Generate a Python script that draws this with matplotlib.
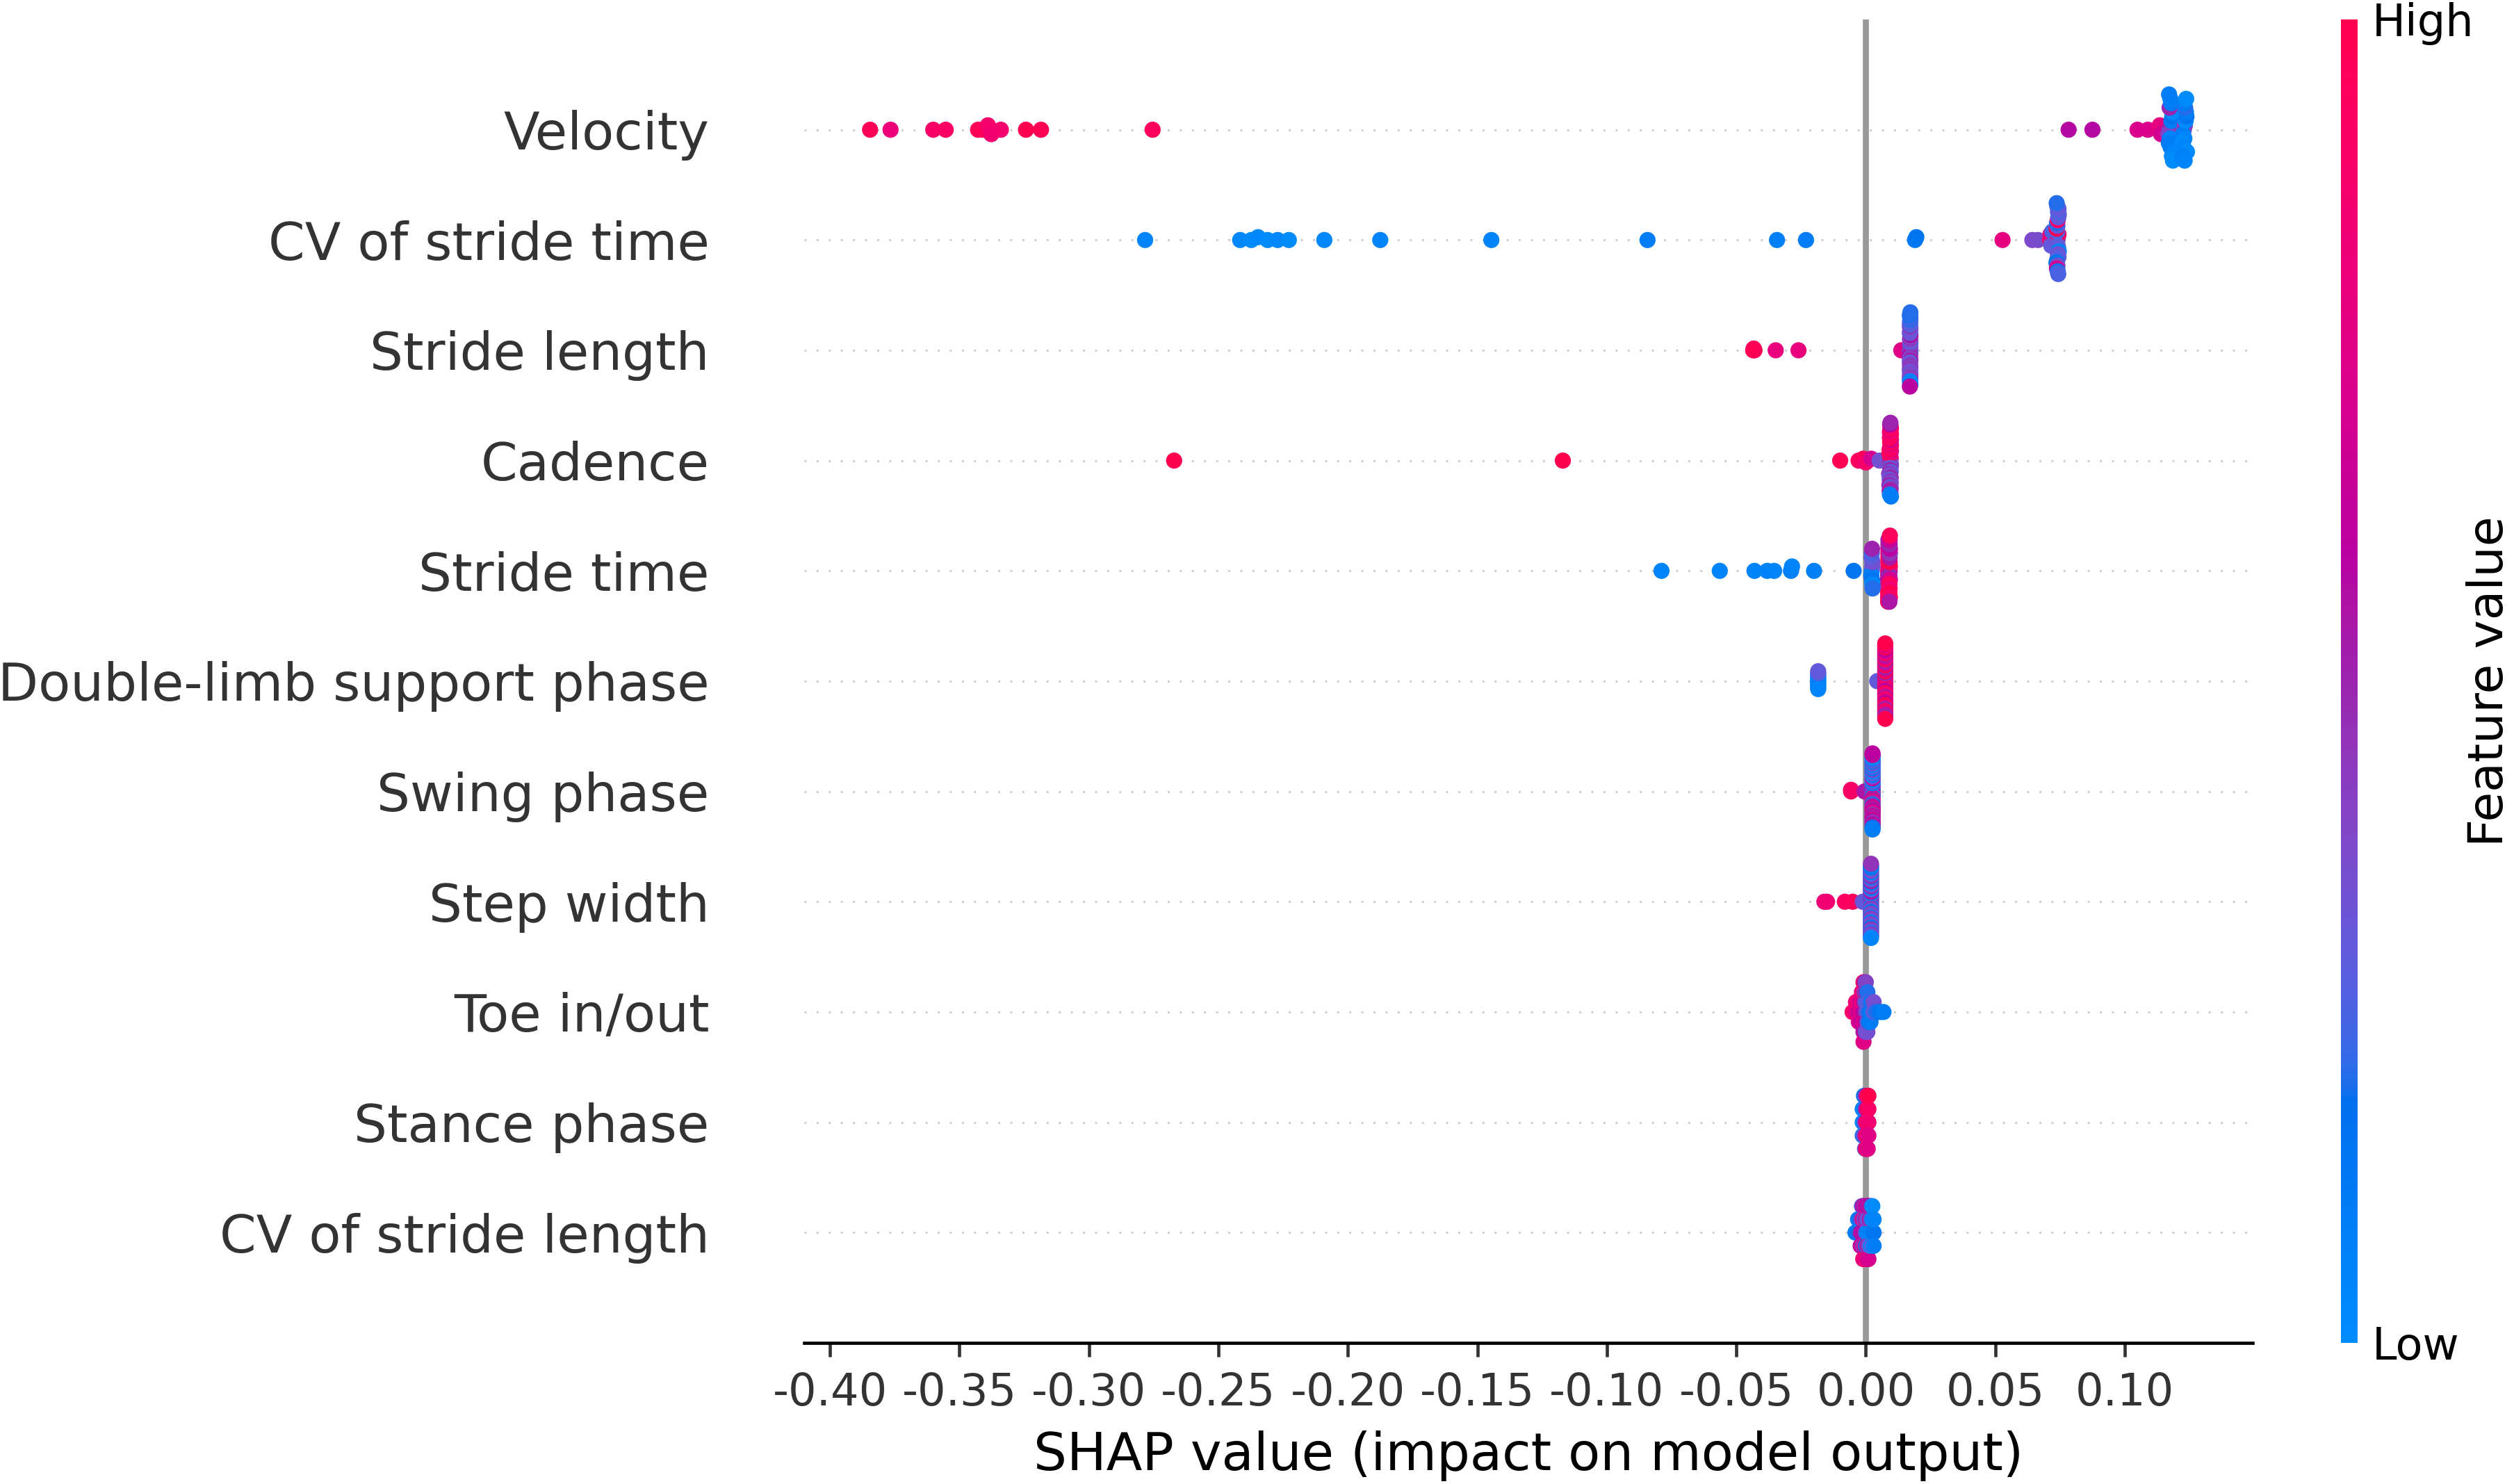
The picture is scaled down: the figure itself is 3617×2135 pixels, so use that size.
import numpy as np
import matplotlib

matplotlib.use("Agg")
import matplotlib.pyplot as plt
from matplotlib.cm import ScalarMappable
from matplotlib.colors import LinearSegmentedColormap
from matplotlib.ticker import FormatStrFormatter

# feature names, top row first
FEATURES = ["Velocity", "CV of stride time", "Stride length", "Cadence", "Stride time",
            "Double-limb support phase", "Swing phase", "Step width", "Toe in/out",
            "Stance phase", "CV of stride length"]

XTICKS = [-0.40, -0.35, -0.30, -0.25, -0.20, -0.15, -0.10, -0.05, 0.00, 0.05, 0.10]

# per sample: SHAP value and normalised feature value (0 = low, 1 = high)
velocity_shap = [-0.3845, -0.3766, -0.3601, -0.3553, -0.3428, -0.3409, -0.3390, -0.3377, -0.3340,
                 -0.3243, -0.3185, -0.2754,
                 0.0783, 0.0875, 0.1049, 0.1089, 0.1130, 0.1135, 0.1140,
                 0.1172, 0.1178, 0.1168, 0.1180, 0.1175, 0.1183, 0.1170, 0.1185, 0.1177, 0.1173,
                 0.1188, 0.1179, 0.1182, 0.1176, 0.1186, 0.1171,
                 0.1228, 0.1232, 0.1225, 0.1235, 0.1230, 0.1238, 0.1222, 0.1236, 0.1227, 0.1233,
                 0.1240, 0.1229, 0.1224, 0.1237, 0.1231]
velocity_fv = [0.97, 0.82, 0.90, 0.92, 0.98, 0.96, 0.88, 0.85, 0.86, 1.00, 0.98, 0.95,
               0.58, 0.58, 0.72, 0.72, 0.75, 0.78, 0.70,
               0.45, 0.50, 0.40, 0.10, 0.05, 0.15, 0.10, 0.00, 0.10, 0.50, 0.05, 0.12, 0.02, 0.08,
               0.00, 0.10,
               0.30, 0.45, 0.10, 0.00, 0.05, 0.15, 0.00, 0.10, 0.05, 0.20, 0.00, 0.10, 0.08, 0.00,
               0.05]

cv_time_shap = [-0.2783, -0.2416, -0.2373, -0.2347, -0.2310, -0.2271, -0.2228, -0.2091, -0.1875,
                -0.1446, -0.0843, -0.0343, -0.0231,
                0.0190, 0.0195, 0.0528, 0.0643, 0.0665,
                0.0712, 0.0715, 0.0718, 0.0713, 0.0716, 0.0720,
                0.0740, 0.0742, 0.0738, 0.0744, 0.0741, 0.0739, 0.0743, 0.0737, 0.0745, 0.0740,
                0.0742, 0.0738, 0.0744, 0.0741, 0.0739, 0.0743, 0.0736, 0.0745, 0.0740, 0.0742,
                0.0738, 0.0744, 0.0741, 0.0739, 0.0743, 0.0737]
cv_time_fv = [0.05, 0.02, 0.00, 0.03, 0.00, 0.02, 0.00, 0.03, 0.05, 0.05, 0.10, 0.08, 0.10,
              0.12, 0.15, 0.78, 0.38, 0.36,
              0.95, 0.90, 0.30, 0.80, 0.30, 0.25,
              0.80, 0.30, 0.35, 0.95, 0.30, 0.25, 0.30, 1.00, 0.05, 0.30,
              0.35, 0.20, 0.30, 0.90, 0.25, 0.30, 0.15, 0.30, 0.35, 0.25,
              0.70, 0.30, 0.20, 0.30, 0.25, 0.20]

stride_len_shap = [-0.0435, -0.0433, -0.0430, -0.0348, -0.0260, 0.0137,
                   0.0171, 0.0172, 0.0170, 0.0171, 0.0172, 0.0171, 0.0170, 0.0172, 0.0171, 0.0172,
                   0.0170, 0.0171, 0.0172, 0.0171, 0.0170, 0.0172, 0.0171, 0.0172, 0.0171, 0.0170,
                   0.0172, 0.0171, 0.0170, 0.0172, 0.0171, 0.0172, 0.0171, 0.0170, 0.0172, 0.0171,
                   0.0170, 0.0171, 0.0172, 0.0171, 0.0170, 0.0172, 0.0171, 0.0172, 0.0171, 0.0170,
                   0.0172, 0.0171, 0.0170, 0.0172]
stride_len_fv = [1.00, 0.95, 0.98, 0.80, 0.80, 0.75,
                 0.45, 0.40, 0.35, 0.45, 0.30, 0.40, 0.60, 0.35, 0.45, 0.30,
                 0.40, 0.35, 0.55, 0.45, 0.30, 0.40, 0.35, 0.60, 0.45, 0.30,
                 0.40, 0.35, 0.45, 0.30, 0.40, 0.35, 0.30, 0.45, 0.40, 0.25,
                 0.35, 0.30, 0.45, 0.25, 0.40, 0.20, 0.05, 0.25, 0.05, 0.20,
                 0.10, 0.20, 0.60, 0.20]

cadence_shap = [-0.2671, -0.1170, -0.0099, -0.0028, -0.0020, -0.0010, 0.0000, 0.0008, 0.0021, 0.0053,
                0.0094, 0.0096, 0.0092, 0.0095, 0.0097, 0.0093, 0.0096, 0.0091, 0.0094, 0.0097,
                0.0095, 0.0092, 0.0096, 0.0094, 0.0090, 0.0097, 0.0093, 0.0095, 0.0096, 0.0094,
                0.0092, 0.0097, 0.0095, 0.0093, 0.0096, 0.0094, 0.0091, 0.0097, 0.0095, 0.0093,
                0.0096, 0.0094, 0.0092, 0.0097, 0.0095, 0.0096, 0.0093, 0.0094, 0.0097, 0.0095]
cadence_fv = [1.00, 1.00, 0.98, 0.95, 0.90, 0.95, 0.85, 0.90, 0.70, 0.35,
              0.75, 0.50, 0.45, 0.85, 0.30, 0.90, 0.45, 0.95, 0.30, 0.75,
              0.50, 1.00, 0.30, 0.85, 0.45, 0.90, 0.35, 0.80, 0.50, 0.95,
              0.30, 0.70, 0.45, 1.00, 0.35, 0.85, 0.50, 0.95, 0.30, 0.90,
              0.45, 0.80, 0.55, 0.95, 0.50, 0.90, 0.10, 0.60, 0.10, 0.50]

stride_time_shap = [-0.0789, -0.0564, -0.0430, -0.0381, -0.0354, -0.0289, -0.0285, -0.0200, -0.0047,
                    0.0023, 0.0025, 0.0021, 0.0026, 0.0024, 0.0022, 0.0025, 0.0023, 0.0026, 0.0024,
                    0.0086, 0.0087, 0.0086, 0.0087, 0.0086, 0.0087, 0.0086, 0.0087, 0.0086, 0.0087,
                    0.0086, 0.0087, 0.0086, 0.0087, 0.0086,
                    0.0092, 0.0093, 0.0091, 0.0092, 0.0093, 0.0092, 0.0091, 0.0093, 0.0092, 0.0093,
                    0.0091, 0.0092, 0.0093, 0.0092, 0.0091, 0.0093]
stride_time_fv = [0.05, 0.05, 0.05, 0.06, 0.05, 0.08, 0.05, 0.08, 0.15,
                  0.05, 0.30, 0.10, 0.35, 0.15, 0.30, 0.05, 0.25, 0.20, 0.50,
                  0.95, 0.70, 0.55, 0.90, 0.60, 1.00, 0.50, 0.85, 0.45, 0.75,
                  0.95, 0.55, 0.80, 0.50, 1.00,
                  0.60, 0.90, 0.50, 1.00, 0.70, 0.55, 0.95, 0.45, 0.85, 0.60,
                  1.00, 0.50, 0.90, 0.65, 0.55, 0.95]

double_limb_shap = [-0.0184, -0.0184, -0.0184, -0.0184, -0.0184, -0.0184, -0.0184, -0.0184, -0.0184,
                    -0.0184, 0.0044,
                    0.0075, 0.0075, 0.0075, 0.0075, 0.0075, 0.0075, 0.0075, 0.0075, 0.0075, 0.0075,
                    0.0075, 0.0075, 0.0075, 0.0075, 0.0075, 0.0075, 0.0075, 0.0075, 0.0075, 0.0075,
                    0.0075, 0.0075, 0.0075, 0.0075, 0.0075, 0.0075, 0.0075, 0.0075, 0.0075, 0.0075,
                    0.0075, 0.0075, 0.0075, 0.0075, 0.0075, 0.0075, 0.0075, 0.0075, 0.0075]
double_limb_fv = [0.05, 0.10, 0.05, 0.08, 0.10, 0.05, 0.10, 0.25, 0.05, 0.30, 0.30,
                  0.75, 0.50, 0.80, 1.00, 0.55, 0.70, 0.95, 0.50, 0.80, 1.00,
                  0.60, 0.75, 0.95, 0.50, 0.85, 1.00, 0.55, 0.70, 0.90, 0.50,
                  0.80, 0.95, 0.60, 0.75, 1.00, 0.55, 0.85, 0.90, 0.50, 0.70,
                  0.95, 0.60, 0.80, 1.00, 0.55, 0.75, 0.50, 1.00, 1.00]

swing_shap = [-0.0057, -0.0057, -0.0005,
              0.0026, 0.0026, 0.0026, 0.0026, 0.0026, 0.0026, 0.0026, 0.0026, 0.0026, 0.0026,
              0.0026, 0.0026, 0.0026, 0.0026, 0.0026, 0.0026, 0.0026, 0.0026, 0.0026, 0.0026,
              0.0026, 0.0026, 0.0026, 0.0026, 0.0026, 0.0026, 0.0026, 0.0026, 0.0026, 0.0026,
              0.0026, 0.0026, 0.0026, 0.0026, 0.0026, 0.0026, 0.0026, 0.0026, 0.0026, 0.0026,
              0.0026, 0.0026, 0.0026, 0.0026, 0.0026, 0.0026, 0.0026]
swing_fv = [0.95, 0.90, 0.55,
            0.50, 0.30, 0.75, 0.10, 0.45, 0.60, 0.00, 0.35, 0.70, 0.15,
            0.50, 0.30, 0.80, 0.05, 0.45, 0.65, 0.20, 0.35, 0.55, 0.10,
            0.70, 0.30, 0.50, 0.00, 0.60, 0.40, 0.75, 0.15, 0.45, 0.30,
            0.65, 0.05, 0.50, 0.35, 0.70, 0.20, 0.55, 0.30, 0.45, 0.10,
            0.60, 0.00, 0.50, 0.65, 0.15, 0.60, 0.10]

step_width_shap = [-0.0160, -0.0150, -0.0081, -0.0051, -0.0012, -0.0005,
                   0.0020, 0.0020, 0.0020, 0.0020, 0.0020, 0.0020, 0.0020, 0.0020, 0.0020, 0.0020,
                   0.0020, 0.0020, 0.0020, 0.0020, 0.0020, 0.0020, 0.0020, 0.0020, 0.0020, 0.0020,
                   0.0020, 0.0020, 0.0020, 0.0020, 0.0020, 0.0020, 0.0020, 0.0020, 0.0020, 0.0020,
                   0.0020, 0.0020, 0.0020, 0.0020, 0.0020, 0.0020, 0.0020, 0.0020, 0.0020, 0.0020,
                   0.0020, 0.0020, 0.0020, 0.0020]
step_width_fv = [0.82, 0.85, 0.92, 0.95, 0.35, 0.30,
                 0.60, 0.30, 0.45, 0.15, 0.35, 0.55, 0.10, 0.30, 0.45, 0.20,
                 0.35, 0.60, 0.15, 0.30, 0.40, 0.10, 0.35, 0.50, 0.20, 0.30,
                 0.45, 0.15, 0.35, 0.55, 0.10, 0.30, 0.40, 0.20, 0.35, 0.50,
                 0.15, 0.30, 0.45, 0.10, 0.35, 0.40, 0.20, 0.30, 0.45, 0.15,
                 0.30, 0.10, 0.05, 0.45]

toe_shap = [-0.0051, -0.0038, -0.0038, -0.0027, -0.0027, -0.0027, -0.0020, -0.0020, -0.0020,
            -0.0015, -0.0015, -0.0015, -0.0015,
            -0.0009, -0.0009, -0.0009, -0.0009, -0.0009, -0.0009, -0.0009,
            -0.0004, -0.0004, -0.0004, -0.0004, -0.0004, -0.0004,
            0.0000, 0.0000, 0.0000, 0.0000, 0.0000, 0.0000,
            0.0006, 0.0006, 0.0006, 0.0006, 0.0006,
            0.0012, 0.0012, 0.0012, 0.0018, 0.0018, 0.0018,
            0.0024, 0.0024, 0.0030, 0.0030, 0.0040, 0.0055, 0.0068]
toe_fv = [0.90, 0.80, 0.85, 0.60, 0.80, 0.70, 0.80, 0.65, 0.75,
          0.70, 0.85, 0.60, 0.80,
          0.60, 0.70, 0.80, 0.85, 0.55, 0.95, 0.75,
          0.60, 0.50, 0.70, 0.40, 0.65, 0.55,
          0.45, 0.30, 0.60, 0.50, 0.35, 0.40,
          0.30, 0.25, 0.40, 0.20, 0.35,
          0.20, 0.30, 0.15, 0.15, 0.20, 0.10,
          0.10, 0.12, 0.30, 0.35, 0.20, 0.15, 0.10]

stance_shap = [-0.0012, -0.0012, -0.0012, -0.0007, -0.0007, -0.0007, -0.0007,
               -0.0003, -0.0003, -0.0003, -0.0003, -0.0003,
               0.0000, 0.0000, 0.0000, 0.0000, 0.0000,
               0.0002, 0.0002, 0.0002, 0.0002, 0.0002,
               0.0004, 0.0004, 0.0004, 0.0004, 0.0004,
               0.0005, 0.0005, 0.0005, 0.0005, 0.0005,
               0.0006, 0.0006, 0.0006, 0.0006, 0.0006,
               0.0007, 0.0007, 0.0007, 0.0007, 0.0007,
               0.0008, 0.0008, 0.0008, 0.0008, 0.0010, 0.0010, 0.0010, 0.0010]
stance_fv = [0.05, 0.10, 0.20, 0.10, 0.05, 0.25, 0.15,
             0.30, 0.10, 0.40, 0.20, 0.35,
             0.50, 0.35, 0.60, 0.40, 0.55,
             0.70, 0.50, 0.80, 0.45, 0.90,
             0.75, 0.60, 0.95, 0.50, 1.00,
             0.85, 0.55, 0.90, 0.65, 0.95,
             0.90, 0.70, 1.00, 0.60, 0.85,
             0.80, 0.95, 0.70, 1.00, 0.75,
             0.90, 0.80, 0.95, 0.85, 0.85, 0.90, 0.75, 1.00]

cv_len_shap = [-0.0040, -0.0030, -0.0030, -0.0020, -0.0020, -0.0020,
               -0.0015, -0.0015, -0.0015, -0.0015,
               -0.0010, -0.0010, -0.0010, -0.0010, -0.0010,
               -0.0005, -0.0005, -0.0005, -0.0005, -0.0005,
               0.0000, 0.0000, 0.0000, 0.0000, 0.0000,
               0.0005, 0.0005, 0.0005, 0.0005, 0.0005,
               0.0010, 0.0010, 0.0010, 0.0010, 0.0010,
               0.0015, 0.0015, 0.0015, 0.0015,
               0.0020, 0.0020, 0.0020, 0.0020,
               0.0025, 0.0025, 0.0025, 0.0025,
               0.0030, 0.0030, 0.0030]
cv_len_fv = [0.10, 0.15, 0.10, 0.50, 0.20, 0.60,
             0.60, 0.45, 0.70, 0.30,
             0.55, 0.80, 0.40, 0.65, 0.85,
             0.60, 0.35, 0.75, 0.45, 0.80,
             0.30, 0.55, 0.20, 0.70, 0.85,
             0.10, 0.40, 0.50, 0.60, 0.75,
             0.05, 0.30, 0.45, 0.50, 0.70,
             0.10, 0.55, 0.35, 0.65,
             0.05, 0.40, 0.00, 0.50,
             0.10, 0.05, 0.30, 0.00,
             0.15, 0.05, 0.10]

ROWS = [(velocity_shap, velocity_fv), (cv_time_shap, cv_time_fv), (stride_len_shap, stride_len_fv),
        (cadence_shap, cadence_fv), (stride_time_shap, stride_time_fv),
        (double_limb_shap, double_limb_fv), (swing_shap, swing_fv), (step_width_shap, step_width_fv),
        (toe_shap, toe_fv), (stance_shap, stance_fv), (cv_len_shap, cv_len_fv)]


def lch2rgb(l, c, h):
    # CIE LCh -> Lab -> XYZ (D65) -> sRGB, same route as shap's colour helpers
    a, b = c * np.cos(h), c * np.sin(h)
    fy = (l + 16) / 116
    f = np.array([fy + a / 500, fy, max(fy - b / 200, 0)])
    xyz = np.where(f > 0.2068966, f ** 3, (f - 16 / 116) / 7.787) * np.array([0.95047, 1.0, 1.08883])
    xyz_from_rgb = np.array([[0.412453, 0.357580, 0.180423],
                             [0.212671, 0.715160, 0.072169],
                             [0.019334, 0.119193, 0.950227]])
    rgb = np.linalg.inv(xyz_from_rgb) @ xyz
    rgb = np.where(rgb > 0.0031308, 1.055 * np.abs(rgb) ** (1 / 2.4) - 0.055, rgb * 12.92)
    return np.clip(rgb, 0, 1)


def red_blue():
    blue, red, l_mid, n = [54.0, 70.0, 4.6588], [54.0, 90.0, 0.35470565 + 2 * np.pi], 40.0, 100
    ls = list(np.linspace(blue[0], l_mid, n // 2)) + list(np.linspace(l_mid, red[0], n // 2))
    cs = np.linspace(blue[1], red[1], n)
    hs = np.linspace(blue[2], red[2], n)
    return LinearSegmentedColormap.from_list("red_blue", [lch2rgb(*v) for v in zip(ls, cs, hs)])


def swarm(shaps, nbins=100, row_height=0.4):
    # shap's beeswarm: bin the values, alternate up/down inside each bin
    shaps = np.asarray(shaps)
    quant = np.round(nbins * (shaps - shaps.min()) / (shaps.max() - shaps.min() + 1e-8))
    ys = np.zeros(len(shaps))
    layer, last_bin = 0, -1
    for ind in np.argsort(quant, kind="stable"):
        if quant[ind] != last_bin:
            layer = 0
        ys[ind] = np.ceil(layer / 2) * ((layer % 2) * 2 - 1)
        layer += 1
        last_bin = quant[ind]
    return ys * 0.9 * (row_height / np.max(ys + 1))


plt.rcParams["axes.unicode_minus"] = False
axis_color = "#333333"
cmap = red_blue()
DPI = 418

fig = plt.figure(figsize=(3617 / DPI, 2135 / DPI), dpi=DPI)
ax = fig.add_axes([0.3199, 0.0951, 0.5762, 0.8918])
ax.axvline(x=0, color="#999999", zorder=-1)

n = len(FEATURES)
for i, (shaps, fv) in enumerate(ROWS):
    pos = n - 1 - i
    ax.axhline(y=pos, color="#cccccc", lw=0.5, dashes=(1, 5), zorder=-1)
    ax.scatter(shaps, pos + swarm(shaps), c=fv, cmap=cmap, vmin=0, vmax=1, s=16,
               linewidth=0, zorder=3)

ax.xaxis.set_ticks_position("bottom")
ax.yaxis.set_ticks_position("none")
for side in ["right", "top", "left"]:
    ax.spines[side].set_visible(False)
ax.tick_params(color=axis_color, labelcolor=axis_color)
ax.set_yticks(range(n))
ax.set_yticklabels(FEATURES[::-1], fontsize=13)
ax.tick_params("y", length=20, width=0.5, which="major")
ax.tick_params("x", labelsize=11)
ax.set_xticks(XTICKS)
ax.xaxis.set_major_formatter(FormatStrFormatter("%.2f"))
ax.set_ylim(-1, n)
ax.set_xlabel("SHAP value (impact on model output)", fontsize=13)

cax = fig.add_axes([0.9312, 0.0951, 0.00664, 0.8918])
cb = fig.colorbar(ScalarMappable(cmap=cmap), cax=cax, ticks=[0, 1])
cb.set_ticklabels(["Low", "High"])
cb.set_label("Feature value", size=12, labelpad=-2)
cb.ax.tick_params(labelsize=11, length=0)
cb.outline.set_visible(False)

fig.savefig("out.png", dpi=DPI)
